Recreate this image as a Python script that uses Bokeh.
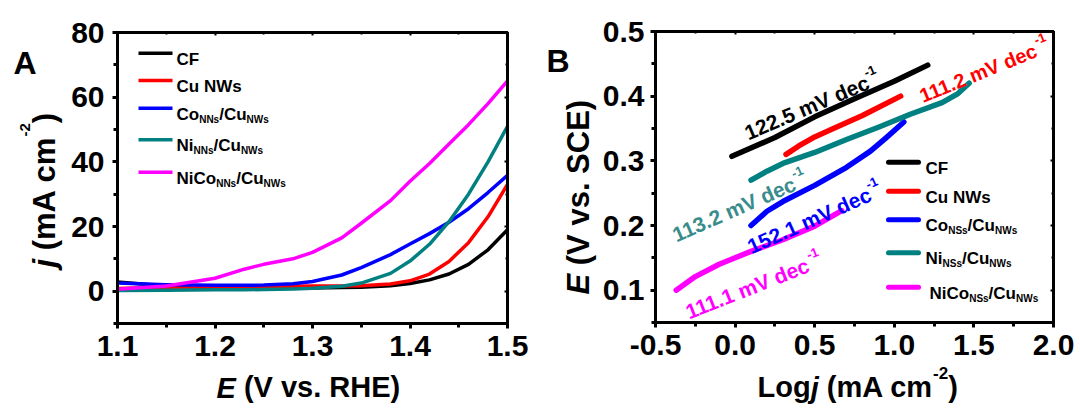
import math
from bokeh.plotting import figure
from bokeh.models import FixedTicker, Label, LinearAxis, Range1d
from bokeh.layouts import row
from bokeh.embed import file_html
from bokeh.resources import INLINE

# ---------------- data ----------------
# Panel A: LSV curves, j (mA cm-2) vs E (V vs. RHE)
E_A = [1.10, 1.15, 1.20, 1.23, 1.25, 1.28, 1.30, 1.33, 1.35, 1.38, 1.40, 1.42, 1.44, 1.46, 1.48, 1.50]
J_CF = [2.8, 1.6, 1.1, 1.0, 1.0, 1.0, 1.0, 1.1, 1.2, 1.7, 2.4, 3.5, 5.3, 8.3, 12.8, 19.0]
J_CU = [0.8, 1.2, 1.4, 1.5, 1.5, 1.55, 1.6, 1.6, 1.7, 2.2, 3.2, 5.3, 9.2, 15.0, 23.0, 33.0]
J_CO = [2.5, 2.0, 1.8, 1.8, 1.9, 2.3, 3.0, 5.0, 7.3, 11.3, 14.6, 17.8, 21.3, 25.5, 30.5, 35.8]
J_NI = [0.2, 0.3, 0.4, 0.45, 0.5, 0.7, 0.9, 1.5, 2.5, 5.5, 9.3, 14.5, 21.5, 30.0, 40.0, 51.0]
J_NICO = [0.6, 1.6, 4.0, 6.8, 8.3, 10.0, 12.0, 16.5, 21.0, 28.0, 34.0, 39.5, 45.5, 51.5, 58.0, 65.0]

# Panel B: Tafel plots, E (V vs. SCE) vs log j
LJ_CF = [-0.02, 0.25, 0.5, 0.75, 1.0, 1.21]
EB_CF = [0.307, 0.336, 0.368, 0.396, 0.423, 0.448]
LJ_CU = [0.32, 0.4, 0.5, 0.6, 0.8, 1.04]
EB_CU = [0.31, 0.323, 0.337, 0.348, 0.37, 0.40]
LJ_CO = [0.1, 0.2, 0.3, 0.5, 0.7, 0.85, 0.95, 1.06]
EB_CO = [0.20, 0.222, 0.237, 0.262, 0.29, 0.315, 0.336, 0.36]
LJ_NI = [0.1, 0.2, 0.3, 0.5, 0.7, 0.9, 1.1, 1.3, 1.4, 1.47]
EB_NI = [0.27, 0.284, 0.296, 0.313, 0.333, 0.352, 0.372, 0.39, 0.404, 0.42]
LJ_NICO = [-0.37, -0.25, -0.1, 0.1, 0.3, 0.5, 0.67]
EB_NICO = [0.10, 0.121, 0.14, 0.16, 0.178, 0.199, 0.223]

TAFEL_SLOPES = ["122.5", "111.2", "113.2", "152.1", "111.1"]

# legend labels: (text, is_subscript)
LEG_A = [[("CF", 0)], [("Cu NWs", 0)], [("Co", 0), ("NNs", 1), ("/Cu", 0), ("NWs", 1)],
         [("Ni", 0), ("NNs", 1), ("/Cu", 0), ("NWs", 1)], [("NiCo", 0), ("NNs", 1), ("/Cu", 0), ("NWs", 1)]]
LEG_B = [[("CF", 0)], [("Cu NWs", 0)], [("Co", 0), ("NSs", 1), ("/Cu", 0), ("NWs", 1)],
         [("Ni", 0), ("NSs", 1), ("/Cu", 0), ("NWs", 1)], [("NiCo", 0), ("NSs", 1), ("/Cu", 0), ("NWs", 1)]]

A_XTICKS = [1.1, 1.2, 1.3, 1.4, 1.5]
A_XLABELS = ["1.1", "1.2", "1.3", "1.4", "1.5"]
A_YTICKS = [0, 20, 40, 60, 80]
A_YLABELS = ["0", "20", "40", "60", "80"]
B_XTICKS = [-0.5, 0.0, 0.5, 1.0, 1.5, 2.0]
B_XLABELS = ["-0.5", "0.0", "0.5", "1.0", "1.5", "2.0"]
B_YTICKS = [0.1, 0.2, 0.3, 0.4, 0.5]
B_YLABELS = ["0.1", "0.2", "0.3", "0.4", "0.5"]

COLORS = ["#000000", "#FF0000", "#0000FF", "#008080", "#FF00FF"]
ANNOT_COLORS = ["#000000", "#FF0000", "#3A8C8C", "#0000FF", "#FF00FF"]

FONT = "Liberation Sans"

# ---------------- helpers ----------------
WID = {' ': 278, '(': 333, ')': 333, '.': 278, '/': 278, '-': 333,
       'A': 722, 'B': 722, 'C': 722, 'E': 667, 'F': 611, 'H': 722, 'L': 611, 'N': 722,
       'R': 722, 'S': 667, 'V': 667, 'W': 944,
       'a': 556, 'c': 556, 'd': 611, 'e': 556, 'g': 611, 'i': 278, 'j': 278, 'm': 889,
       'o': 611, 's': 556, 'u': 611, 'v': 556}
HR = 1.17   # tick-label box height / font size (as measured by bokehjs)
AR = 0.82   # box top -> baseline / font size


def tw(s, size):
    return sum(WID.get(c, 556) for c in s) * size / 1000.0


def make_conv(xr, yr, fr):
    L, R, T, B = fr

    def cx(px):
        return xr[0] + (px - L) * (xr[1] - xr[0]) / (R - L)

    def cy(py):
        return yr[1] - (py - T) * (yr[1] - yr[0]) / (B - T)
    return cx, cy


IDENT = (lambda px: px, lambda py: py)


def no_align(p):
    if "frame_align" in p.properties():
        p.frame_align = False


def text_seq(p, conv, x0, y0, parts, angle_deg=0.0, color="black"):
    """composed text (pieces with own size/style/baseline shift) along a rotated baseline"""
    cx, cy = conv
    th = math.radians(angle_deg)
    dx, dy = math.cos(th), -math.sin(th)
    ux, uy = -math.sin(th), -math.cos(th)
    adv = 0.0
    for t, s, style, shift in parts:
        body = t.lstrip(" ")
        adv += tw(t[:len(t) - len(body)], s)
        px = x0 + adv * dx + shift * ux
        py = y0 + adv * dy + shift * uy
        p.add_layout(Label(x=cx(px), y=cy(py), text=body, text_font=FONT,
                           text_font_size=f"{s}px", text_font_style=style,
                           text_color=color, angle=th, text_align="left",
                           text_baseline="alphabetic"))
        adv += tw(body, s)


def centers(x0, parts):
    """page-x centres of consecutive text pieces (leading blanks only advance)"""
    out, adv = [], 0.0
    for t, s in parts:
        body = t.lstrip(" ")
        adv += tw(t[:len(t) - len(body)], s)
        out.append(x0 + adv + tw(body, s) / 2)
        adv += tw(body, s)
    return out


def text_axis(p, ticks, labels, size, style, standoff):
    """bottom axis without line/ticks that only carries title pieces"""
    ax = LinearAxis(ticker=FixedTicker(ticks=list(ticks), minor_ticks=[]),
                    major_label_overrides=dict(zip(ticks, labels)),
                    major_label_text_font=FONT, major_label_text_font_size=f"{size}px",
                    major_label_text_font_style=style, major_label_text_color="black",
                    major_label_standoff=int(round(standoff)),
                    axis_line_color=None, major_tick_line_color=None,
                    minor_tick_line_color=None, major_tick_in=0, major_tick_out=0,
                    minor_tick_in=0, minor_tick_out=0)
    p.add_layout(ax, "below")


def strip(x0, x1, y0, y1):
    """a bare figure whose frame covers a strip of the page (page pixel coordinates)"""
    s = figure(width=int(x1 - x0), height=int(y1 - y0), x_range=Range1d(x0, x1),
               y_range=Range1d(y1, y0), x_axis_type=None, y_axis_type=None, title=None,
               min_border=0, toolbar_location=None, output_backend="svg")
    s.outline_line_color = None
    no_align(s)
    return s


def box_axis(p, side, ticker):
    ax = LinearAxis(ticker=ticker, axis_line_width=3, axis_line_color="black",
                    major_tick_in=3, major_tick_out=0, minor_tick_in=2, minor_tick_out=0,
                    major_tick_line_width=2, minor_tick_line_width=2,
                    major_label_text_color=None, major_label_text_alpha=0,
                    major_label_text_font_size="1px")
    p.add_layout(ax, side)


def style_axes(p, xt, xl, xminor, yt, yl, yminor, ystand):
    no_align(p)
    p.grid.visible = False
    p.outline_line_color = "black"
    p.outline_line_width = 3
    p.xaxis.ticker = FixedTicker(ticks=xt, minor_ticks=xminor)
    p.yaxis.ticker = FixedTicker(ticks=yt, minor_ticks=yminor)
    p.xaxis.major_label_overrides = {t: l for t, l in zip(xt, xl)}
    p.yaxis.major_label_overrides = {t: l for t, l in zip(yt, yl)}
    for ax in (p.xaxis, p.yaxis):
        ax.axis_line_width = 3
        ax.axis_line_color = "black"
        ax.major_tick_line_width = 3
        ax.minor_tick_line_width = 3
        ax.major_tick_line_color = "black"
        ax.minor_tick_line_color = "black"
        ax.major_tick_in = 0
        ax.major_tick_out = 5
        ax.minor_tick_in = 0
        ax.minor_tick_out = 4
        ax.major_label_text_font = FONT
        ax.major_label_text_font_style = "bold"
        ax.major_label_text_font_size = "30px"
        ax.major_label_text_color = "black"
    p.xaxis.major_label_standoff = 7
    p.yaxis.major_label_standoff = ystand
    box_axis(p, "above", FixedTicker(ticks=xt, minor_ticks=xminor))
    box_axis(p, "right", FixedTicker(ticks=yt, minor_ticks=yminor))


TITLE_SIZE = 29
MAIN_EDGE = 5 + 7 + HR * 30          # extent of the tick-label axis below the frame

# ====================== panel A ======================
FA = (117, 507, 32, 323)            # frame in page pixels
A_STRIP_W = 66
XRA, YRA = (1.1, 1.5), (-10, 80)
pA = figure(width=540 - A_STRIP_W, height=416, x_range=XRA, y_range=YRA,
            output_backend="svg", toolbar_location=None,
            min_border_left=FA[0] - A_STRIP_W, min_border_right=540 - FA[1],
            min_border_top=FA[2], min_border_bottom=416 - FA[3])
style_axes(pA, A_XTICKS, A_XLABELS, [1.15, 1.25, 1.35, 1.45],
           A_YTICKS, A_YLABELS, [-10, 10, 30, 50, 70], 8)
convA = make_conv(XRA, YRA, FA)
cxA, cyA = convA

for ys, c in zip([J_CF, J_CU, J_CO, J_NI, J_NICO], COLORS):
    pA.line(E_A, ys, line_color=c, line_width=3.5, line_join="round")

rowsA = [52.7, 80, 107.7, 139.3, 171.7]
for parts, c, ry in zip(LEG_A, COLORS, rowsA):
    pA.segment(x0=[cxA(138)], y0=[cyA(ry)], x1=[cxA(172)], y1=[cyA(ry)],
               line_color=c, line_width=3.5)
    text_seq(pA, convA, 176, ry + 6,
             [(t, 10 if sub else 17, "bold", -5 if sub else 0) for t, sub in parts])

# x title A "E (V vs. RHE)": baseline at page y 406
xa = centers(216, [("E", TITLE_SIZE), (" (V vs. RHE)", TITLE_SIZE)])
top_a = 406 - AR * TITLE_SIZE
text_axis(pA, [cxA(xa[1])], ["(V vs. RHE)"], TITLE_SIZE, "bold", top_a - (FA[3] + MAIN_EDGE))
text_axis(pA, [cxA(xa[0])], ["E"], TITLE_SIZE, "bold italic", -HR * TITLE_SIZE)

# left strip A: panel letter + y title
sLA = strip(0, A_STRIP_W, 0, 416)
text_seq(sLA, IDENT, 13, 62, [("A", 32, "bold", 0)])
text_seq(sLA, IDENT, 44, 267,
         [("j", 31, "bold italic", 0), (" (mA cm", 31, "bold", 0), ("-2", 15, "bold", 20),
          (")", 31, "bold", 0)], angle_deg=90)

# ====================== panel B ======================
FB = (655, 1053, 31, 322)           # frame in page pixels
B_STRIP_X = 598
XRB, YRB = (-0.5, 2.0), (0.05, 0.5)
pB = figure(width=1080 - B_STRIP_X, height=416, x_range=XRB, y_range=YRB,
            output_backend="svg", toolbar_location=None,
            min_border_left=FB[0] - B_STRIP_X, min_border_right=1080 - FB[1],
            min_border_top=FB[2], min_border_bottom=416 - FB[3])
style_axes(pB, B_XTICKS, B_XLABELS, [-0.25, 0.25, 0.75, 1.25, 1.75],
           B_YTICKS, B_YLABELS, [0.05, 0.15, 0.25, 0.35, 0.45], 6)
convB = make_conv(XRB, YRB, FB)
cxB, cyB = convB

for xs, ys, c in zip([LJ_CF, LJ_CU, LJ_CO, LJ_NI, LJ_NICO],
                     [EB_CF, EB_CU, EB_CO, EB_NI, EB_NICO], COLORS):
    pB.line(xs, ys, line_color=c, line_width=5.5, line_join="round", line_cap="round")

ann_pos = [(745, 133, 23, 21), (920, 96, 22, 20), (673, 235, 23.5, 21),
           (748, 247, 24, 21), (686, 312, 21.5, 21)]
for s, c, (ax, ay, ang, fs) in zip(TAFEL_SLOPES, ANNOT_COLORS, ann_pos):
    text_seq(pB, convB, ax, ay, [(s + " mV dec", fs, "bold", 0), ("-1", 13, "bold", 9)],
             angle_deg=ang, color=c)

rowsB = [161.7, 190.7, 219.3, 252.3, 286.7]
txB = [925, 925, 925, 925, 929]
for parts, c, ry, tx in zip(LEG_B, COLORS, rowsB, txB):
    pB.segment(x0=[cxB(888)], y0=[cyB(ry)], x1=[cxB(918)], y1=[cyB(ry)],
               line_color=c, line_width=5, line_cap="round")
    text_seq(pB, convB, tx, ry + 6,
             [(t, 10 if sub else 17, "bold", -5 if sub else 0) for t, sub in parts])

# x title B "Logj (mA cm-2)": baseline at page y 406
xb = centers(757, [("Log", TITLE_SIZE), ("j", TITLE_SIZE), (" (mA cm", TITLE_SIZE),
                   ("-2", 17), (")", TITLE_SIZE)])
top_b = 406 - AR * TITLE_SIZE
text_axis(pB, [cxB(xb[0]), cxB(xb[2]), cxB(xb[4])], ["Log", "(mA cm", ")"],
          TITLE_SIZE, "bold", top_b - (FB[3] + MAIN_EDGE))
text_axis(pB, [cxB(xb[1])], ["j"], TITLE_SIZE, "bold italic", -HR * TITLE_SIZE)
sup_top = (406 - 16) - AR * 17
text_axis(pB, [cxB(xb[3])], ["-2"], 17, "bold", sup_top - (top_b + HR * TITLE_SIZE))

# left strip B
sLB = strip(540, B_STRIP_X, 0, 416)
text_seq(sLB, IDENT, 546, 60, [("B", 32, "bold", 0)])
text_seq(sLB, IDENT, 578, 294,
         [("E", 31, "bold italic", 0), (" (V vs. SCE)", 31, "bold", 0)], angle_deg=90)

layout = row(sLA, pA, sLB, pB)
open("out.html", "w").write(file_html(layout, INLINE))
